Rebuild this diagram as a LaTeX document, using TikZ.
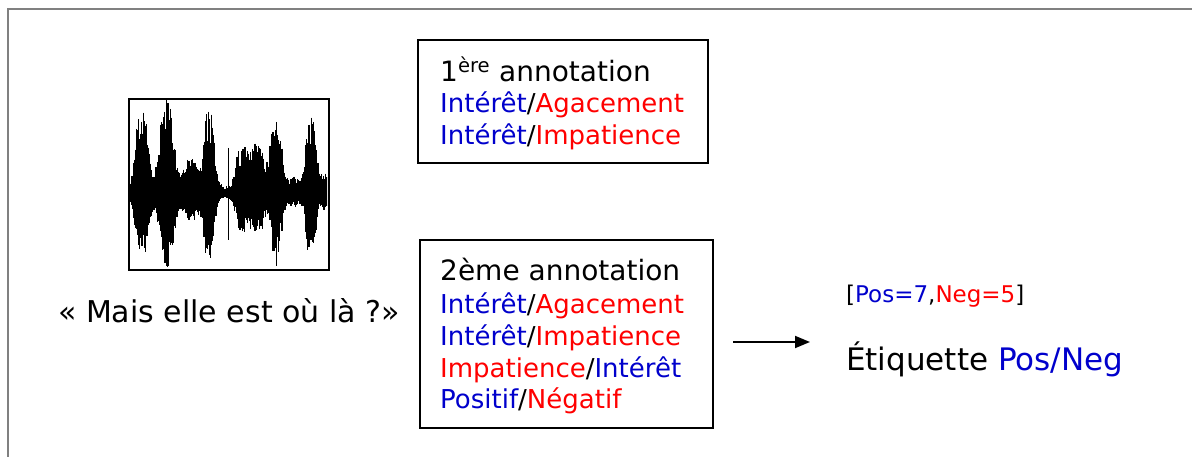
\documentclass[tikz,border=0pt]{standalone}
\usepackage{fontspec}
\setmainfont{DejaVu Sans}
\usetikzlibrary{arrows.meta}
\definecolor{cblue}{RGB}{0,0,204}
\definecolor{cred}{RGB}{255,0,0}
\definecolor{framegray}{RGB}{128,128,128}
\newcommand{\bl}[1]{\textcolor{cblue}{#1}}
\newcommand{\rd}[1]{\textcolor{cred}{#1}}
\begin{document}
\begin{tikzpicture}[x=1pt,y=-1pt,
  boxstyle/.style={draw=black,line width=1.8pt,fill=white,anchor=north west,inner sep=0pt},
  titletext/.style={anchor=base west,inner sep=0pt,font=\fontsize{28}{32}\selectfont},
  linetext/.style={anchor=base west,inner sep=0pt,font=\fontsize{26}{30}\selectfont},
  captext/.style={anchor=base west,inner sep=0pt,font=\fontsize{30}{34}\selectfont},
  declare function={bump(\x,\c,\w)=1/(1+min(abs(\x-\c)/\w,10)^4);}]
\useasboundingbox (0,0) rectangle (1192,457);
\draw[framegray,line width=2pt] (8,457) -- (8,9) -- (1192,9);

% waveform box
\node[boxstyle,minimum width=200pt,minimum height=171pt] (wave) at (128,98) {};
\begin{scope}
\clip (129,99) rectangle (327,268);
\pgfmathsetseed{11}
\foreach \i in {0,...,330} {
  \pgfmathsetmacro\xx{129+\i*0.6}
  \pgfmathsetmacro\env{4+80*bump(\xx,142,7)+86*bump(\xx,167,8)+78*bump(\xx,209,6)+28*bump(\xx,191,8)+40*bump(\xx,242,7)+45*bump(\xx,257,7)+68*bump(\xx,276,7)+10*bump(\xx,294,5)+72*bump(\xx,311,6)+14*bump(\xx,325,4)}
  \pgfmathsetmacro\up{193-\env*(0.55+0.45*rnd)}
  \pgfmathsetmacro\dn{193+0.82*\env*(0.55+0.45*rnd)}
  \draw[line width=1.1pt] (\xx,\up) -- (\xx,\dn);
}
\draw[line width=0.8pt] (228,148) -- (228,240);
\draw[line width=0.8pt] (276,122) -- (276,266);
\draw[line width=0.8pt] (166,100) -- (166,250);
\end{scope}

\node[captext] (caption) at (58,323) {« Mais elle est où là ?»};

% first annotation
\node[boxstyle,minimum width=290pt,minimum height=123pt] (box1) at (417,39) {};
\node[titletext] (b1t) at (440,82) {1\textsuperscript{ère} annotation};
\node[linetext] (b1a) at (440,113) {\bl{Intérêt}/\rd{Agacement}};
\node[linetext] (b1b) at (440,145) {\bl{Intérêt}/\rd{Impatience}};

% second annotation
\node[boxstyle,minimum width=293pt,minimum height=188pt] (box2) at (419,239) {};
\node[titletext] (b2t) at (440,280) {2ème annotation};
\node[linetext] (b2a) at (440,313) {\bl{Intérêt}/\rd{Agacement}};
\node[linetext] (b2b) at (440,345) {\bl{Intérêt}/\rd{Impatience}};
\node[linetext] (b2c) at (440,377) {\rd{Impatience}/\bl{Intérêt}};
\node[linetext] (b2d) at (440,408) {\bl{Positif}/\rd{Négatif}};

% arrow and result
\coordinate (arrS) at (733,342);
\coordinate (arrE) at (810,342);
\draw[line width=1.8pt,-{Triangle[length=15pt,width=12pt]}] (arrS) -- (arrE);
\node[linetext,font=\fontsize{23}{27}\selectfont] (counts) at (846,302) {[\bl{Pos=7},\rd{Neg=5}]};
\node[captext,font=\fontsize{31}{36}\selectfont] (label) at (846,370) {Étiquette \bl{Pos/Neg}};
\end{tikzpicture}
\end{document}
